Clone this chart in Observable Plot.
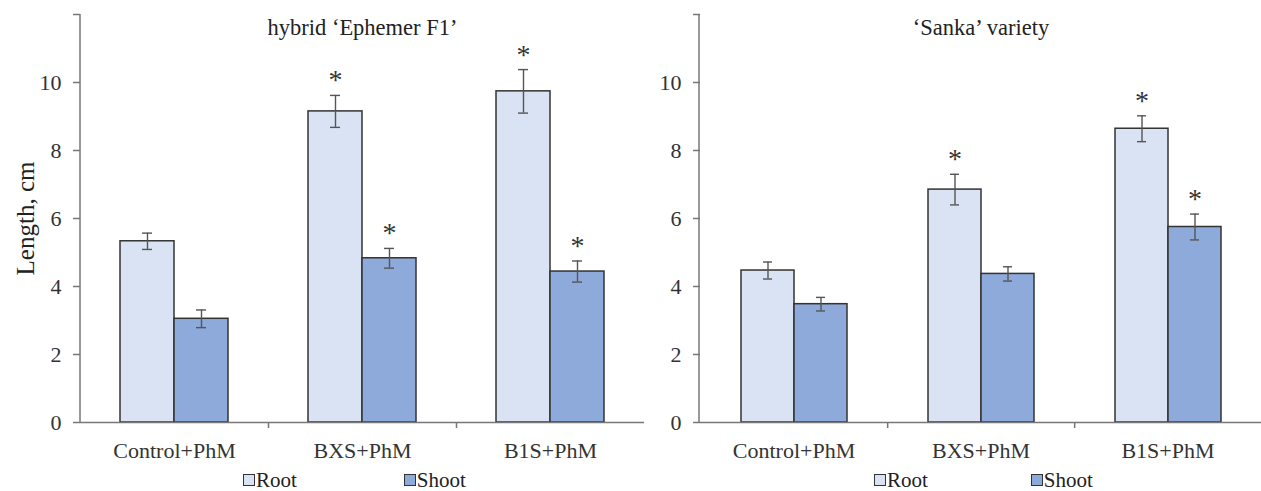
<!DOCTYPE html>
<html>
<head>
<meta charset="utf-8">
<script src="https://cdn.jsdelivr.net/npm/d3@7"></script>
<script src="https://cdn.jsdelivr.net/npm/@observablehq/plot@0.6"></script>
<style>
  html, body { margin: 0; padding: 0; background: #fff; }
  body { width: 1261px; height: 491px; overflow: hidden; font-family: "Liberation Serif", "Times New Roman", serif; color: #222; }
  #wrap { display: flex; flex-direction: row; }
  .panel { display: flex; flex-direction: column; }
  .legend { display: flex; flex-direction: row; align-items: center; font-size: 21px; height: 20px; line-height: 20px; margin-top: 4px; }
  .item { display: flex; align-items: center; }
  .sw { width: 10px; height: 10px; border: 1px solid #333; margin-right: 1px; }
</style>
</head>
<body>
<div id="wrap"></div>
<script>
const categories = ["Control+PhM", "BXS+PhM", "B1S+PhM"];
const series = ["Root", "Shoot"];
const titles = ["hybrid \u2018Ephemer F1\u2019", "\u2018Sanka\u2019 variety"];
const yTicks = [0, 2, 4, 6, 8, 10, 12];
const yTickLabels = ["0", "2", "4", "6", "8", "10", ""];
const yLabel = "Length, cm";

// Panel 1: hybrid 'Ephemer F1'
const ephemerRoot = [5.33, 9.15, 9.74];
const ephemerRootErr = [0.24, 0.47, 0.64];
const ephemerShoot = [3.05, 4.83, 4.44];
const ephemerShootErr = [0.26, 0.29, 0.31];
const ephemerRootSig = [false, true, true];
const ephemerShootSig = [false, true, true];

// Panel 2: 'Sanka' variety
const sankaRoot = [4.47, 6.85, 8.64];
const sankaRootErr = [0.25, 0.45, 0.38];
const sankaShoot = [3.48, 4.37, 5.75];
const sankaShootErr = [0.20, 0.21, 0.38];
const sankaRootSig = [false, true, true];
const sankaShootSig = [false, false, true];

const colors = {Root: "#dae3f3", Shoot: "#8eaadb"};
const FONT = "'Liberation Serif', 'Times New Roman', serif";

function rows(root, rootErr, rootSig, shoot, shootErr, shootSig) {
  const out = [];
  categories.forEach((c, i) => {
    out.push({cat: c, s: "Root", v: root[i], e: rootErr[i], sig: rootSig[i]});
    out.push({cat: c, s: "Shoot", v: shoot[i], e: shootErr[i], sig: shootSig[i]});
  });
  return out;
}

function panel(data, title, opts) {
  const {width, marginLeft, marginRight, showLabel} = opts;
  const height = 466;
  const marginTop = 14, marginBottom = 44;
  const band = (width - marginLeft - marginRight) / categories.length;
  const marks = [
    Plot.barY(data, {fx: "cat", x: "s", y: "v", fill: d => colors[d.s], stroke: "#333", strokeWidth: 1.5}),
    Plot.ruleX(data, {fx: "cat", x: "s", y1: d => d.v - d.e, y2: d => d.v + d.e, stroke: "#555", strokeWidth: 1.4}),
    Plot.tickY(data, {fx: "cat", x: "s", y: d => d.v + d.e, stroke: "#555", strokeWidth: 1.4, insetLeft: 22, insetRight: 22}),
    Plot.tickY(data, {fx: "cat", x: "s", y: d => d.v - d.e, stroke: "#555", strokeWidth: 1.4, insetLeft: 22, insetRight: 22}),
    Plot.text(data.filter(d => d.sig), {fx: "cat", x: "s", y: d => d.v + d.e, text: () => "*", fontSize: 28, fontFamily: FONT, fill: "#333", dy: -15}),
    Plot.ruleY([0], {stroke: "#777", strokeWidth: 1.5}),
    Plot.axisY({ticks: yTicks, tickFormat: (d) => yTickLabels[yTicks.indexOf(d)], tickSize: 7, tickPadding: 12, fontSize: 22, fontFamily: FONT, stroke: "#777", strokeWidth: 1.5, color: "#333", label: null}),
    Plot.axisFx({anchor: "bottom", tickSize: 0, tickPadding: 20, fontSize: 22, fontFamily: FONT, color: "#333", label: null}),
    Plot.axisFx({anchor: "bottom", ticks: categories.slice(0, categories.length - 1), tickSize: 6, tickFormat: () => "", dx: band / 2, stroke: "#777", strokeWidth: 1.5, label: null}),
    Plot.text([title], {fx: () => categories[1], frameAnchor: "top", dy: 5, fontSize: 22.5, fontFamily: FONT, fill: "#222"})
  ];
  if (showLabel) {
    marks.push(Plot.text([yLabel], {fx: () => categories[0], frameAnchor: "left", textAnchor: "middle", dx: -55, rotate: -90, fontSize: 25, fontFamily: FONT, fill: "#222"}));
  }
  const plot = Plot.plot({
    width, height, marginTop, marginBottom, marginLeft, marginRight,
    style: {fontFamily: FONT, background: "transparent", overflow: "visible"},
    fx: {domain: categories, padding: 0, axis: null},
    x: {domain: series, paddingInner: 0, paddingOuter: 0.74, axis: null},
    y: {domain: [0, 12], axis: null},
    marks
  });
  // vertical axis line drawn through the plot's own y scale
  const y = plot.scale("y");
  d3.select(plot).append("line")
    .attr("x1", marginLeft).attr("x2", marginLeft)
    .attr("y1", y.apply(y.domain[0])).attr("y2", y.apply(y.domain[1]))
    .attr("stroke", "#777").attr("stroke-width", 1.5);
  return plot;
}

function legend(offsetLeft, gap) {
  const div = document.createElement("div");
  div.className = "legend";
  div.style.marginLeft = offsetLeft + "px";
  series.forEach((s, i) => {
    const it = document.createElement("div");
    it.className = "item";
    if (i > 0) it.style.marginLeft = gap + "px";
    const sw = document.createElement("span");
    sw.className = "sw";
    sw.style.background = colors[s];
    const t = document.createElement("span");
    t.textContent = s;
    it.appendChild(sw); it.appendChild(t);
    div.appendChild(it);
  });
  return div;
}

const wrap = document.getElementById("wrap");
const p1 = document.createElement("div"); p1.className = "panel"; p1.style.width = "645px";
p1.appendChild(panel(rows(ephemerRoot, ephemerRootErr, ephemerRootSig, ephemerShoot, ephemerShootErr, ephemerShootSig), titles[0], {width: 645, marginLeft: 80, marginRight: 1, showLabel: true}));
p1.appendChild(legend(243, 107));
const p2 = document.createElement("div"); p2.className = "panel"; p2.style.width = "616px";
p2.appendChild(panel(rows(sankaRoot, sankaRootErr, sankaRootSig, sankaShoot, sankaShootErr, sankaShootSig), titles[1], {width: 616, marginLeft: 54, marginRight: 0, showLabel: false}));
p2.appendChild(legend(229, 103));
wrap.appendChild(p1); wrap.appendChild(p2);
</script>
</body>
</html>
